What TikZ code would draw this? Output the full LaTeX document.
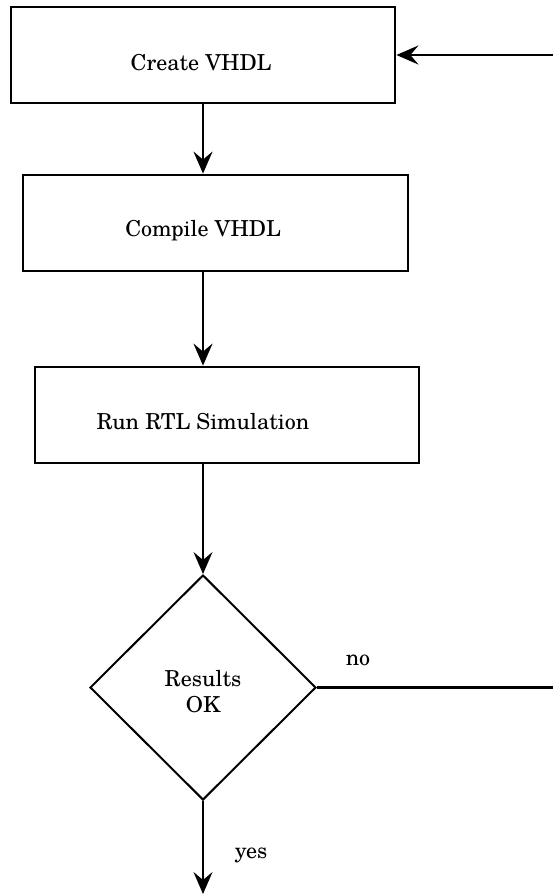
\documentclass[tikz,border=0pt]{standalone}
\usepackage{fontspec}
\setmainfont{TeX Gyre Schola}
\usetikzlibrary{shapes.geometric,arrows.meta}
\tikzset{
  procbox/.style={draw, line width=1.4pt, rectangle, inner sep=0pt},
  decide/.style={draw, line width=1pt, diamond, inner sep=0pt, minimum width=113pt, minimum height=112.5pt},
  txt/.style={font=\fontsize{11}{13}\selectfont, inner sep=0pt, align=center},
  flow/.style={line width=1.1pt, -{Stealth[length=11pt, width=9.5pt, inset=4pt]}},
  plain/.style={line width=1.1pt}
}
\begin{document}
\begin{tikzpicture}[x=0.5pt,y=-0.5pt]
\useasboundingbox (0,0) rectangle (553,894);
\node[procbox, minimum width=192pt, minimum height=48pt] (b1) at (203,55) {};
\node[procbox, minimum width=192.5pt, minimum height=48pt] (b2) at (215.5,223) {};
\node[procbox, minimum width=192pt, minimum height=48pt] (b3) at (227,415) {};
\node[decide] (d) at (203,687.5) {};
\node[txt] (t1) at (201,63) {Create VHDL};
\node[txt] (t2) at (203,231) {Compile VHDL};
\node[txt] (t3) at (203,422) {Run RTL Simulation};
\node[txt] (t4) at (203,692) {Results\\OK};
\node[txt] (no) at (358,660) {no};
\node[txt] (yes) at (251,855) {yes};
\coordinate (rin) at (553,55);
\coordinate (rout) at (553,687.5);
\coordinate (bot) at (203,894);
\draw[flow] (rin) -- (b1.east);
\draw[flow] (b1.south) -- (b1.south |- b2.north);
\draw[flow] (b2.south -| d.north) -- (b3.north -| d.north);
\draw[flow] (b3.south -| d.north) -- (d.north);
\draw[plain] (d.east) -- (rout);
\draw[flow] (d.south) -- (bot);
\end{tikzpicture}
\end{document}
